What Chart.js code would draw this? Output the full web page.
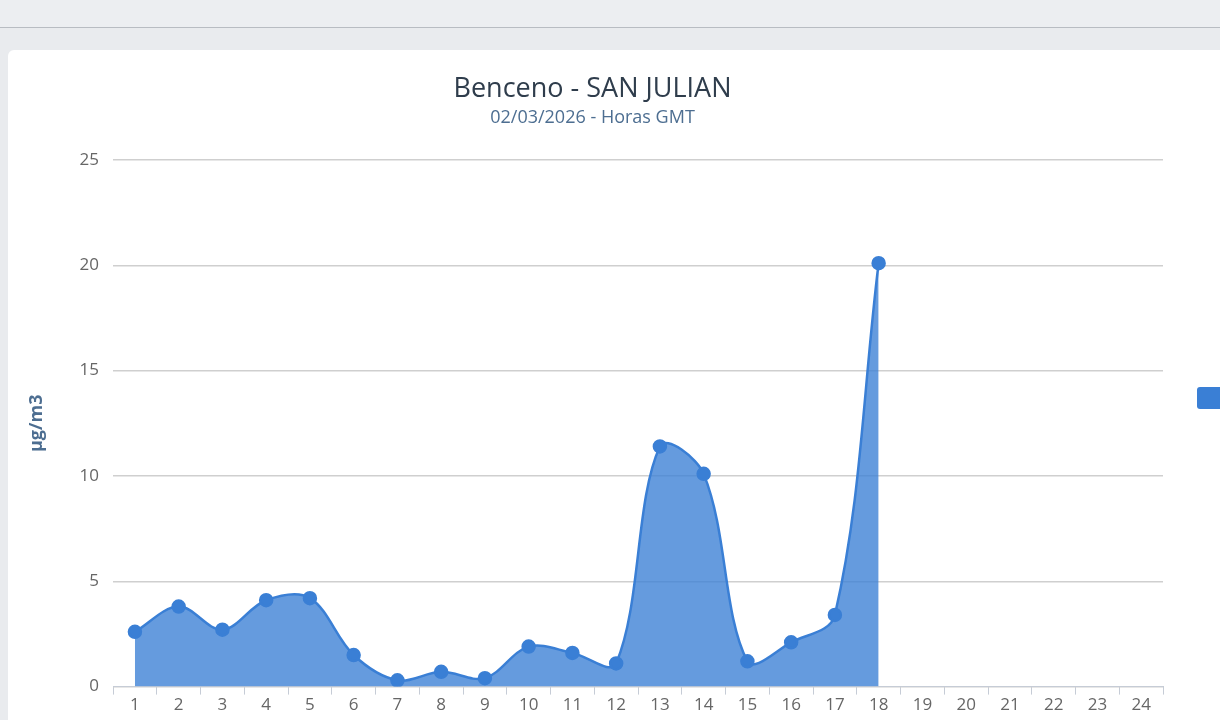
<!DOCTYPE html>
<html><head><meta charset="utf-8">
<script src="https://cdn.jsdelivr.net/npm/chart.js@4/dist/chart.umd.min.js"></script>
<style>
html,body{margin:0;padding:0;background:#e9ebee;width:1220px;height:720px;overflow:hidden;font-family:"Open Sans",sans-serif}
#top{position:absolute;left:0;top:0;width:1220px;height:27px;border-bottom:1px solid #b8bcc2;background:#eceef1}
#card{position:absolute;left:8px;top:50px;width:1240px;height:700px;background:#fff;border-radius:6px}
#wrap{position:absolute;left:8px;top:50px;width:1212px;height:670px}
</style></head><body>
<div id="top"></div><div id="card"></div>
<div id="wrap"><canvas id="c"></canvas></div>
<script>
const hours=["1","2","3","4","5","6","7","8","9","10","11","12","13","14","15","16","17","18","19","20","21","22","23","24"];
const benceno=[2.6,3.8,2.7,4.1,4.2,1.5,0.3,0.7,0.4,1.9,1.6,1.1,11.4,10.1,1.2,2.1,3.4,20.1,null,null,null,null,null,null];
const yTicks=[0,5,10,15,20,25];
const legendBox={id:'lb',afterDraw(ch){const x=ch.ctx;x.save();x.fillStyle='#3a7fd5';x.beginPath();x.roundRect(1189,337,30,22,3);x.fill();x.restore();}};
new Chart(document.getElementById('c'),{
type:'line',
data:{labels:hours,datasets:[{data:benceno,borderColor:'#3a7fd5',backgroundColor:'rgba(58,127,213,0.78)',fill:'origin',borderWidth:2.5,tension:0.35,pointRadius:6,pointBackgroundColor:'#3a7fd5',pointBorderColor:'#3a7fd5',spanGaps:false}]},
options:{responsive:true,maintainAspectRatio:false,animation:false,
layout:{padding:{left:14,right:57,top:14,bottom:5}},
plugins:{legend:{display:false},tooltip:{enabled:false},
title:{display:true,text:'Benceno - SAN JULIAN',color:'#2f3d4c',font:{family:'Open Sans',size:27,weight:'normal'},padding:{top:9,bottom:0}},
subtitle:{display:true,text:'02/03/2026 - Horas GMT',color:'#4d6e91',font:{family:'Open Sans',size:18},padding:{top:2,bottom:31}}},
scales:{
x:{offset:true,grid:{display:true,drawOnChartArea:false,offset:true,tickLength:8,color:'#c6ccd6'},border:{color:'#c6ccd6'},ticks:{color:'#666',font:{family:'Open Sans',size:17},padding:0}},
y:{min:0,max:25,afterBuildTicks:a=>{a.ticks=yTicks.map(v=>({value:v}));},grid:{color:'#cfcfcf',lineWidth:1.5,drawTicks:false},border:{display:false},
ticks:{color:'#666',font:{family:'Open Sans',size:17},padding:14},
title:{display:true,text:'µg/m3',color:'#4d6e91',font:{family:'Open Sans',size:18,weight:'bold'},padding:{bottom:18}}}
}},
plugins:[legendBox]});
</script></body></html>
